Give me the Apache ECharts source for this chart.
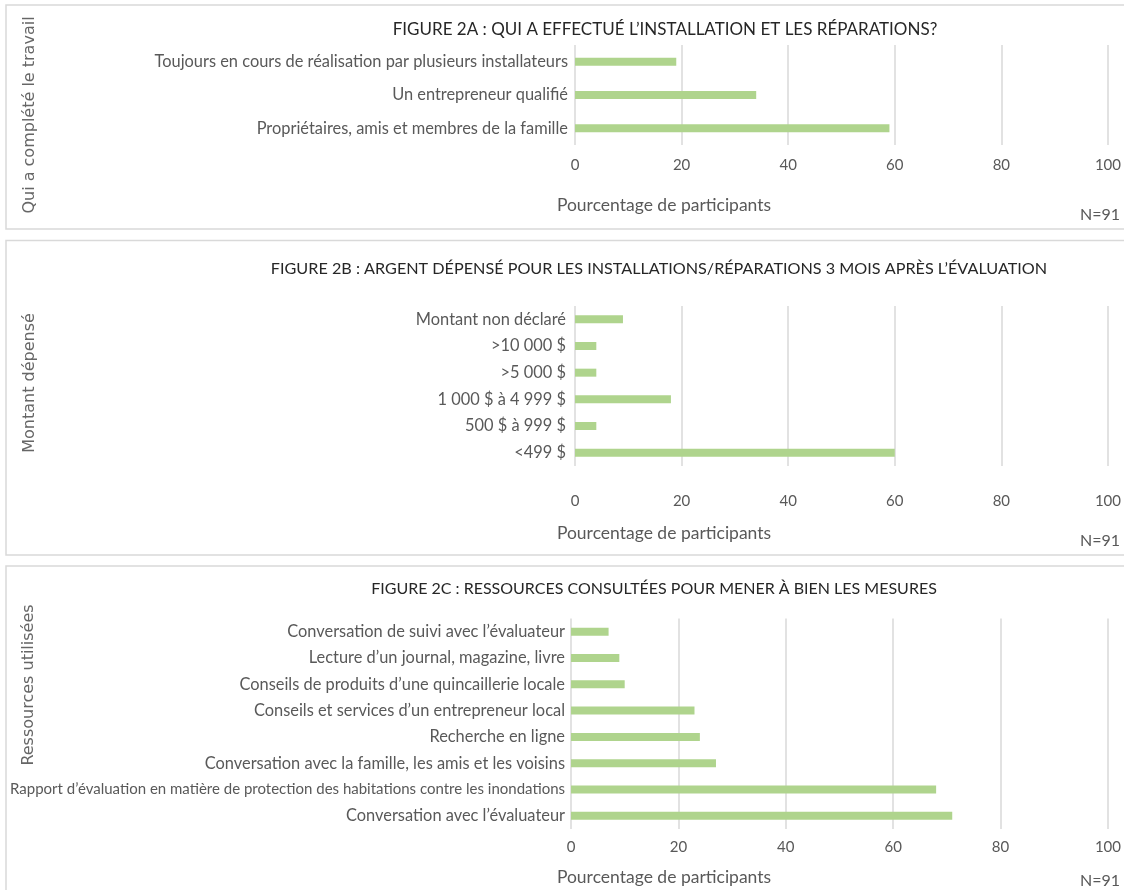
<!DOCTYPE html>
<html>
<head>
<meta charset="utf-8">
<title>Figure 2</title>
<script src="https://cdn.jsdelivr.net/npm/echarts@6.0.0/dist/echarts.min.js"></script>
<style>
  html, body { margin: 0; padding: 0; background: #fff; }
  #chart { width: 1124px; height: 890px; }
</style>
</head>
<body>
<div id="chart"></div>
<script>
// categories are listed bottom to top (the way a category y axis stacks them)
const catA = ['Propriétaires, amis et membres de la famille', 'Un entrepreneur qualifié', 'Toujours en cours de réalisation par plusieurs installateurs'];
const valA = [59, 34, 19];

const catB = ['<499 $', '500 $ à 999 $', '1 000 $ à 4 999 $', '>5 000 $', '>10 000 $', 'Montant non déclaré'];
const valB = [60, 4, 18, 4, 4, 9];

const catC = [
  'Conversation avec l\u2019évaluateur',
  'Rapport d\u2019évaluation en matière de protection des habitations contre les inondations',
  'Conversation avec la famille, les amis et les voisins',
  'Recherche en ligne',
  'Conseils et services d\u2019un entrepreneur local',
  'Conseils de produits d\u2019une quincaillerie locale',
  'Lecture d\u2019un journal, magazine, livre',
  'Conversation de suivi avec l\u2019évaluateur'
];
const valC = [71, 68, 27, 24, 23, 10, 9, 7];

const titles = [
  'FIGURE 2A : QUI A EFFECTUÉ L\u2019INSTALLATION ET LES RÉPARATIONS?',
  'FIGURE 2B : ARGENT DÉPENSÉ POUR LES INSTALLATIONS/RÉPARATIONS 3 MOIS APRÈS L\u2019ÉVALUATION',
  'FIGURE 2C : RESSOURCES CONSULTÉES POUR MENER À BIEN LES MESURES'
];
const sideNames = ['Qui a complété le travail', 'Montant dépensé', 'Ressources utilisées'];
const xName = 'Pourcentage de participants';
const nText = 'N=91';

const FONT = 'Lato, "Noto Sans", sans-serif';
const SIDE_FONT = '"DejaVu Sans", sans-serif';
const GREY = '#595959';
const GRID_LINE = '#d9d9d9';
const BAR = '#afd48d';

const chart = echarts.init(document.getElementById('chart'), null, { renderer: 'canvas' });

function xAx(gridIndex, margin) {
  return {
    gridIndex, type: 'value', min: 0, max: 100, interval: 20,
    axisLine: { show: false }, axisTick: { show: false },
    splitLine: { lineStyle: { color: GRID_LINE, width: 1.5 } },
    axisLabel: { color: GREY, fontSize: 15, fontFamily: FONT, margin }
  };
}
function yAx(gridIndex, data, margin) {
  return {
    gridIndex, type: 'category', data,
    axisLine: { show: false }, axisTick: { show: false },
    axisLabel: {
      color: GREY, fontSize: 16.4, fontFamily: FONT, margin,
      // the very long label is squeezed in the original so it fits the panel
      formatter: v => (v.length > 70 ? '{s|' + v + '}' : v),
      rich: { s: { fontSize: 15, fontFamily: FONT, color: GREY } }
    }
  };
}
function bars(i, data) {
  return {
    type: 'bar', xAxisIndex: i, yAxisIndex: i, data,
    barWidth: 8, itemStyle: { color: BAR }, silent: true
  };
}

function txt(x, y, text, opts) {
  return {
    type: 'text', x, y, silent: true,
    rotation: opts.rotation || 0,
    style: {
      text, fill: opts.fill || GREY,
      font: (opts.size || 14) + 'px ' + (opts.family || FONT),
      textAlign: opts.align || 'center', textVerticalAlign: 'middle'
    }
  };
}
function box(y, h) {
  return {
    type: 'rect', silent: true, z: -1,
    shape: { x: 6, y, width: 1140, height: h },
    style: { fill: 'none', stroke: GRID_LINE, lineWidth: 1.5 }
  };
}

const side = { rotation: Math.PI / 2, size: 16, family: SIDE_FONT, fill: '#666666' };

const graphics = [
  box(5, 224), box(240.5, 314.5), box(566, 340),
  txt(665, 30, titles[0], { size: 17, fill: '#262626' }),
  txt(659, 269, titles[1], { size: 16.2, fill: '#262626' }),
  txt(654, 589, titles[2], { size: 16, fill: '#262626' }),
  txt(30, 115, sideNames[0], side),
  txt(30, 383, sideNames[1], side),
  txt(29, 685, sideNames[2], side),
  txt(664, 205, xName, { size: 17.5 }),
  txt(664, 533, xName, { size: 17.5 }),
  txt(664, 877, xName, { size: 17.5 }),
  txt(1120, 215, nText, { size: 16, align: 'right' }),
  txt(1120, 541, nText, { size: 16, align: 'right' }),
  txt(1120, 881, nText, { size: 16, align: 'right' })
];

chart.setOption({
  animation: false,
  grid: [
    { left: 575, right: 14, top: 45, height: 100 },
    { left: 575, right: 14, top: 306, height: 160 },
    { left: 571, right: 14, top: 618.5, height: 210.5 }
  ],
  xAxis: [xAx(0, 13), xAx(1, 28), xAx(2, 11)],
  yAxis: [yAx(0, catA, 7), yAx(1, catB, 9), yAx(2, catC, 6)],
  series: [bars(0, valA), bars(1, valB), bars(2, valC)],
  graphic: graphics
});
</script>
</body>
</html>
